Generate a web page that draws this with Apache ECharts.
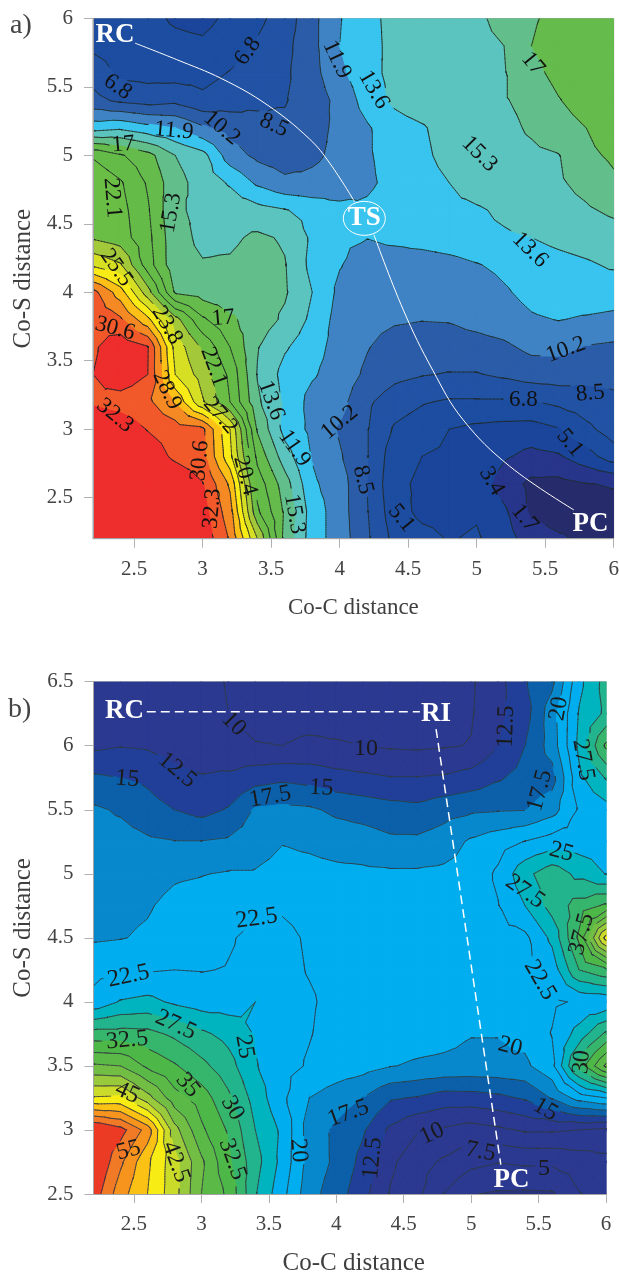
<!DOCTYPE html>
<html><head><meta charset="utf-8">
<style>html,body{margin:0;padding:0;background:#fff}#c{width:619px;height:1272px}</style>
<script src="https://cdn.jsdelivr.net/npm/echarts@6/dist/echarts.min.js"></script>
</head><body><div id="c"></div>
<script>
const SERIF='"Liberation Serif","Times New Roman",serif';
const xA=[2.2,2.4,2.6,2.8,3.0,3.2,3.4,3.6,3.8,4.0,4.2,4.4,4.6,4.8,5.0,5.2,5.4,5.6,5.8,6.0];
const yA=[6.0,5.8,5.6,5.4,5.2,5.0,4.8,4.6,4.4,4.2,4.0,3.8,3.6,3.4,3.2,3.0,2.8,2.6,2.4,2.2];
const zA=[
[5.8,5.7,5.5,4.9,4.6,5.5,6.4,7.6,9.7,11.8,13.2,14.0,14.5,14.8,15.0,15.8,16.8,17.5,17.9,18.1],
[6.4,6.0,5.7,5.5,5.4,6.0,7.0,8.0,9.7,11.9,13.1,14.0,14.4,14.7,14.9,15.3,17.0,17.8,18.1,18.3],
[7.9,6.4,6.2,6.1,6.2,6.9,7.6,8.2,9.6,11.5,13.0,14.1,14.5,14.7,14.9,15.2,16.4,17.6,18.2,18.5],
[9.0,8.2,7.8,8.1,7.2,7.8,8.2,8.4,9.3,10.7,12.6,13.9,14.6,14.8,15.0,15.2,15.7,16.9,17.9,18.4],
[12.9,13.3,12.5,11.9,10.5,9.5,9.0,8.8,9.6,10.6,11.7,12.9,13.4,14.4,14.9,14.9,15.5,16.2,17.0,18.0],
[20.2,18.9,17.6,15.3,14.2,11.0,9.8,9.3,9.9,10.6,11.7,12.6,13.2,14.2,14.6,14.8,15.0,15.25,16.6,17.3],
[21.8,20.6,18.5,15.9,14.6,13.4,11.6,10.6,10.6,10.9,11.6,12.4,12.9,13.6,14.4,14.7,14.9,15.1,15.8,16.7],
[22.0,21.0,18.9,15.5,15.0,14.7,14.2,13.7,13.0,12.4,12.2,12.8,13.0,13.2,13.4,13.9,14.3,14.7,15.1,15.6],
[21.9,21.2,19.2,15.8,15.0,15.0,15.6,15.1,13.3,12.2,11.95,12.3,12.6,12.9,13.2,13.4,13.6,14.0,14.3,14.6],
[25.2,24.0,19.5,15.8,15.4,15.5,16.0,15.4,13.1,12.0,11.1,11.0,11.0,11.3,11.8,12.3,12.8,13.1,13.4,13.8],
[31.2,28.0,22.8,16.8,16.2,15.9,16.0,15.5,13.6,11.5,11.0,10.8,10.6,10.6,11.0,11.7,12.4,12.8,12.9,12.7],
[31.8,30.9,27.7,22.8,19.0,17.3,16.2,15.0,13.2,11.2,10.7,10.4,10.25,10.3,10.7,11.1,11.7,11.95,11.7,11.5],
[32.0,33.5,32.4,24.9,21.8,18.7,15.4,13.8,12.6,11.2,10.3,9.5,9.4,9.5,9.6,9.9,10.6,10.6,10.1,9.9],
[32.3,33.5,32.3,25.5,23.0,20.0,15.2,13.0,12.1,11.1,9.9,9.0,8.6,8.4,8.4,8.8,9.3,9.4,9.0,8.9],
[32.0,31.5,31.0,28.7,24.0,20.4,15.6,13.3,11.3,10.8,8.8,7.6,6.95,6.6,6.6,6.6,6.7,7.2,7.7,8.2],
[34.0,33.5,32.2,31.5,31.0,25.5,16.8,13.0,11.5,10.0,8.6,6.6,5.9,5.1,4.7,4.5,4.4,5.0,6.4,7.6],
[34.5,34.0,33.5,31.9,31.1,26.0,18.2,14.4,11.8,10.4,8.6,5.8,5.1,4.8,4.6,3.6,2.9,3.2,4.4,6.0],
[35.0,35.0,35.0,34.0,32.4,28.6,19.7,16.1,12.2,11.0,8.5,5.5,4.8,4.5,4.4,2.6,1.3,1.2,1.65,1.8],
[36.0,36.0,35.5,34.0,33.0,29.6,20.7,16.7,12.8,11.0,8.6,5.8,4.7,4.6,4.9,3.7,1.4,1.0,1.1,1.3],
[36.0,36.0,35.5,35.0,33.5,30.4,23.8,16.5,12.7,11.1,8.8,6.3,5.6,5.0,5.3,4.2,2.5,1.9,1.4,1.3]
];
const levelsA=[1.7,3.4,5.1,6.8,8.5,10.2,11.9,13.6,15.3,17,18.7,20.4,22.1,23.8,25.5,27.2,28.9,30.6,32.3];
const colorsA=['#262c6b','#27358a','#1a459b','#1c4da0','#2152a4','#2b5ca8','#3f83c4','#38c4ee','#5bc4bf','#62bf8b','#65bb4b','#65bb47','#6abd45','#a3c93a','#d6df23','#f9ec16','#fcc017','#f58a24','#f1592a','#ee2e2c'];
const xB=xA;
const yB=[6.5,6.25,6,5.75,5.5,5.25,5,4.75,4.5,4.25,4,3.75,3.5,3.25,3,2.75,2.5];
const zB=[
[10.8,10.8,10.7,10.6,10.5,9.9,9.5,9.4,9.3,9.3,9.3,9.3,9.4,9.5,9.7,11.6,14.8,16.9,24.3,28.5],
[11.2,11.2,11.0,10.9,10.6,10.0,9.4,9.3,9.2,9.2,9.1,9.1,9.2,9.4,9.8,11.8,14.0,18.9,25.2,28.0],
[12.0,12.4,12.2,11.6,11.1,10.6,10.1,10.0,10.4,10.2,10.0,9.7,9.6,9.8,10.1,12.4,15.0,18.6,25.6,33.0],
[15.4,15.0,14.5,13.1,12.7,13.0,14.0,14.5,14.1,13.4,13.0,12.6,12.6,12.8,13.5,14.7,15.9,16.5,24.4,27.7],
[17.9,17.2,16.0,15.0,14.2,15.2,17.8,18.1,17.9,17.0,16.5,16.0,15.7,16.6,17.1,17.3,17.4,19.0,22.8,24.0],
[18.5,18.5,17.9,17.6,17.6,17.9,18.9,19.9,19.6,19.0,18.7,18.0,18.0,18.7,20.4,21.5,22.6,23.7,23.8,23.8],
[18.9,19.0,19.1,19.7,19.9,20.2,20.2,20.8,20.7,20.6,20.5,20.4,20.4,20.6,21.0,22.9,26.8,29.0,26.8,24.9],
[19.3,19.5,19.8,20.6,21.0,21.5,22.0,22.3,22.0,21.6,21.3,21.0,21.0,21.1,21.4,22.4,25.0,28.5,31.0,33.0],
[19.7,19.9,20.3,21.0,21.5,22.3,23.0,22.9,22.3,21.8,21.5,21.3,21.2,21.2,21.4,21.6,21.9,25.6,33.0,46.0],
[21.8,22.0,22.3,22.5,22.4,22.6,23.0,23.0,22.4,22.0,21.6,21.4,21.3,21.3,21.3,21.4,21.7,23.5,30.0,32.0],
[23.2,25.2,25.7,24.6,23.8,23.8,25.0,23.0,22.7,22.0,21.8,21.6,21.4,21.3,21.3,21.4,21.6,22.1,22.8,23.0],
[31.0,31.0,30.8,29.5,28.0,26.7,24.8,23.1,22.6,21.8,21.4,21.2,21.0,20.7,20.1,20.1,20.8,22.6,26.0,30.5],
[37.9,37.5,34.5,32.8,30.7,28.5,25.2,23.2,22.3,21.5,21.0,20.1,19.7,19.5,19.3,19.3,19.5,21.8,31.0,38.0],
[45.3,45.5,41.0,36.0,33.8,30.5,26.5,23.0,20.0,18.7,17.4,15.3,14.8,13.8,13.9,14.4,15.3,17.7,21.0,22.5],
[58.0,56.0,51.5,41.0,35.5,32.2,27.5,24.5,18.8,17.0,15.3,12.0,10.2,9.6,8.9,9.5,10.3,10.3,10.0,9.4],
[58.0,53.0,48.0,43.5,38.0,33.0,28.5,24.2,19.0,17.0,14.2,10.5,8.5,7.1,5.7,5.1,5.4,5.4,6.1,6.8],
[56.5,51.0,47.5,43.5,37.5,34.5,27.7,23.3,18.4,16.2,13.3,9.8,8.1,4.9,2.6,2.2,2.1,2.2,4.9,5.6]
];
const levelsB=[2.5,5,7.5,10,12.5,15,17.5,20,22.5,25,27.5,30,32.5,35,37.5,40,42.5,45,47.5,50,52.5,55];
const colorsB=['#2a327e','#2b3990','#2b3990','#2b3990','#2b3990','#213f98','#0c5fa9','#0888cc','#00aeef','#00aeef','#00b4bf','#22b48c','#36b56c','#4db848','#5bb947','#72be44','#99ca3c','#cbdb2a','#f7ec13','#fbc115','#f7941e','#f17a26','#ec3b25'];
const xTicks=[2.5,3,3.5,4,4.5,5,5.5,6];
const yTicksA=[2.5,3,3.5,4,4.5,5,5.5,6];
const yTicksB=[2.5,3,3.5,4,4.5,5,5.5,6,6.5];
const contourLabelsA=[[2.38,5.5,'6.8',-35],[3.33,5.76,'6.8',55],[3.52,5.22,'8.5',-25],[3.14,5.2,'10.2',-40],[2.79,5.18,'11.9',-5],[2.42,5.08,'17',5],[2.34,4.69,'22.1',-85],[2.77,4.58,'15.3',80],[2.37,4.18,'25.5',-55],[2.74,3.76,'23.8',-60],[3.15,3.81,'17',5],[2.36,3.735,'30.6',-15],[3.08,3.455,'22.1',-70],[2.74,3.285,'28.9',-65],[3.13,3.10,'27.2',-50],[2.36,3.10,'32.3',-40],[3.5,3.21,'13.6',-70],[3.67,2.86,'11.9',-55],[2.98,2.77,'30.6',85],[3.31,2.66,'20.4',-75],[3.07,2.42,'32.3',85],[3.67,2.38,'15.3',-80],[3.98,5.70,'11.9',-65],[4.25,5.48,'13.6',-60],[5.41,5.67,'17',-50],[5.02,5.01,'15.3',-45],[5.39,4.31,'13.6',-45],[5.65,3.58,'10.2',20],[5.83,3.26,'8.5',5],[5.34,3.21,'6.8',0],[5.68,2.9,'5.1',-50],[5.11,2.62,'3.4',-60],[5.35,2.35,'1.7',-50],[4.45,2.35,'5.1',-50],[4.17,2.63,'8.5',-75],[4.0,3.05,'10.2',40]];
const contourLabelsB=[[3.24,6.17,'10',-45],[2.82,5.81,'12.5',-40],[2.45,5.74,'15',-5],[3.51,5.6,'17.5',10],[3.41,4.65,'22.5',8],[2.46,4.2,'22.5',12],[4.22,5.98,'10',0],[5.26,6.15,'12.5',88],[3.89,5.67,'15',-3],[5.51,5.65,'17.5',75],[5.65,6.29,'20',80],[5.83,5.89,'27.5',-80],[5.67,5.17,'25',-15],[5.4,4.86,'27.5',-35],[5.82,4.53,'37.5',75],[5.51,4.17,'22.5',-60],[2.45,3.70,'32.5',5],[2.81,3.82,'27.5',-25],[3.32,3.65,'25',-80],[2.9,3.35,'35',-50],[3.23,3.17,'30',-60],[2.45,3.29,'45',-25],[3.23,2.77,'32.5',-70],[2.46,2.84,'55',15],[2.81,2.75,'42.5',-70],[3.72,2.84,'20',-85],[5.82,3.53,'30',85],[5.29,3.65,'20',-15],[5.55,3.16,'15',-30],[4.09,3.13,'17.5',20],[4.27,2.78,'12.5',85],[4.71,2.97,'10',25],[5.07,2.83,'7.5',-10],[5.54,2.7,'5',0]];
const pathAx=[2.507,2.81,3.14,3.47,3.78,3.93,4.11];
const pathAy=[5.82,5.7,5.56,5.37,5.12,4.94,4.66];
const pathA2x=[4.25,4.465,4.68,4.9,5.24,5.71];
const pathA2y=[4.42,3.87,3.43,3.07,2.73,2.41];
const pathB1x=[2.595,4.62], pathB1y=[6.266,6.266];
const pathB2x=[4.74,5.22], pathB2y=[6.13,2.73];
const pointsA=[[2.36,5.88,'RC'],[4.18,4.54,'TS'],[5.83,2.31,'PC']];
const pointsB=[[2.43,6.27,'RC'],[4.74,6.25,'RI'],[5.3,2.61,'PC']];

function cells(xs,ys){const d=[];for(let j=0;j<ys.length-1;j++)for(let i=0;i<xs.length-1;i++)d.push([xs[i],ys[j],i,j]);return d;}
function clipPoly(poly,t,keepAbove){const out=[];for(let k=0;k<poly.length;k++){const a=poly[k],b=poly[(k+1)%poly.length];const ina=keepAbove?a.v>=t:a.v<=t,inb=keepAbove?b.v>=t:b.v<=t;if(ina)out.push(a);if(ina!==inb){const f=(t-a.v)/(b.v-a.v);out.push({x:a.x+f*(b.x-a.x),y:a.y+f*(b.y-a.y),v:t});}}return out;}
function tris(api,xs,ys,z){const i=api.value(2),j=api.value(3);
 const c=(p,q)=>{const o=api.coord([xs[p],ys[q]]);return{x:o[0],y:o[1],v:z[q][p]};};
 const a=c(i,j),b=c(i+1,j),d=c(i+1,j+1),e=c(i,j+1);
 const m={x:(a.x+d.x)/2,y:(a.y+d.y)/2,v:(a.v+b.v+d.v+e.v)/4};
 return{corners:[a,b,d,e],list:[[a,b,m],[b,d,m],[d,e,m],[e,a,m]]};}
function fillRender(xs,ys,z,levels,colors){return function(p,api){const t=tris(api,xs,ys,z);const ch=[];
 const vs=t.corners.map(o=>o.v),mn=Math.min(...vs),mx=Math.max(...vs);
 for(let k=0;k<colors.length;k++){const lo=k>0?levels[k-1]:-Infinity,hi=k<levels.length?levels[k]:Infinity;
  if(mx<lo||mn>=hi)continue;
  const add=(poly)=>{if(poly.length>2)ch.push({type:'polygon',silent:true,shape:{points:poly.map(o=>[o.x,o.y])},style:{fill:colors[k],stroke:colors[k],lineWidth:1.2}});};
  if(mn>=lo&&mx<hi){add(t.corners);continue;}
  t.list.forEach(tr=>{let g=tr;if(lo>-Infinity)g=clipPoly(g,lo,true);if(g.length&&hi<Infinity)g=clipPoly(g,hi,false);add(g);});
 }
 return{type:'group',children:ch};};}
function lineRender(xs,ys,z,levels,labels,col,w){return function(p,api){const t=tris(api,xs,ys,z);const ch=[];
 const pl=labels.map(l=>{const o=api.coord([l[0],l[1]]);const r=l[3]*Math.PI/180;return{x:o[0],y:o[1],c:Math.cos(r),s:Math.sin(r),v:parseFloat(l[2]),hw:l[2].length*6+2};});
 const hidden=(x,y,L)=>pl.some(q=>{if(q.v!==L)return false;const dx=x-q.x,dy=y-q.y;const u=dx*q.c-dy*q.s,n=dx*q.s+dy*q.c;return Math.abs(u)<q.hw&&Math.abs(n)<11;});
 levels.forEach(L=>{t.list.forEach(tr=>{const pts=[];for(let k=0;k<3;k++){const a=tr[k],b=tr[(k+1)%3];if((a.v>=L)!==(b.v>=L)){const f=(L-a.v)/(b.v-a.v);pts.push([a.x+f*(b.x-a.x),a.y+f*(b.y-a.y)]);}}
  if(pts.length===2){const N=6;for(let n=0;n<N;n++){const x1=pts[0][0]+(pts[1][0]-pts[0][0])*n/N,y1=pts[0][1]+(pts[1][1]-pts[0][1])*n/N,x2=pts[0][0]+(pts[1][0]-pts[0][0])*(n+1)/N,y2=pts[0][1]+(pts[1][1]-pts[0][1])*(n+1)/N;
    if(!hidden((x1+x2)/2,(y1+y2)/2,L))ch.push({type:'line',silent:true,shape:{x1,y1,x2,y2},style:{stroke:col,lineWidth:w,lineCap:'round'}});}}
 });});
 return{type:'group',children:ch};};}
function textRender(labels,size,col){return function(p,api){const l=labels[api.value(2)];const o=api.coord([l[0],l[1]]);
 return{type:'text',silent:true,x:o[0],y:o[1],rotation:l[3]*Math.PI/180,style:{text:l[2],font:size+'px '+SERIF,fill:col,align:'center',verticalAlign:'middle'}};};}
function pointRender(points,size){return function(p,api){const l=points[api.value(2)];const o=api.coord([l[0],l[1]]);const ch=[{type:'text',silent:true,x:o[0],y:o[1],style:{text:l[2],font:'bold '+size+'px '+SERIF,fill:'#fff',align:'center',verticalAlign:'middle'}}];
 if(l[2]==='TS')ch.push({type:'ellipse',silent:true,shape:{cx:o[0],cy:o[1],rx:21,ry:17},style:{fill:'none',stroke:'#fff',lineWidth:1}});
 return{type:'group',children:ch};};}
function idx(list){return list.map((l,i)=>[l[0],l[1],i]);}
function xAxis(gi){return{type:'value',gridIndex:gi,min:2.2,max:6,z:10,name:'Co-C distance',nameLocation:'middle',nameGap:gi?57:58,nameTextStyle:{fontFamily:SERIF,fontSize:gi?25:23,color:'#3f3f3f',padding:gi?[0,0,0,8]:0},
 axisLine:{show:true,lineStyle:{color:'#a3a3a3',width:1}},splitLine:{show:false},
 axisTick:{show:true,length:9,lineStyle:{color:'#b0b0b0',width:1},customValues:xTicks},
 axisLabel:{customValues:xTicks,margin:20,fontFamily:SERIF,fontSize:21,color:'#444'}};}
function yAxis(gi,mn,mx,ticks){return{type:'value',gridIndex:gi,min:mn,max:mx,z:10,name:'Co-S distance',nameLocation:'middle',nameGap:56,nameRotate:90,nameTextStyle:{fontFamily:SERIF,fontSize:25,color:'#3f3f3f',padding:gi?[0,0,0,20]:0},
 axisLine:{show:true,lineStyle:{color:'#a3a3a3',width:1}},splitLine:{show:false},
 axisTick:{show:true,length:9,lineStyle:{color:'#b0b0b0',width:1},customValues:ticks},
 axisLabel:{customValues:ticks,margin:20,fontFamily:SERIF,fontSize:21,color:'#444'}};}
function custom(gi,data,fn,z){return{type:'custom',xAxisIndex:gi,yAxisIndex:gi,data,renderItem:fn,encode:{x:0,y:1},clip:true,z,silent:true,progressive:0,animation:false};}
function wline(gi,xs,ys,dashed,w){return{type:'line',xAxisIndex:gi,yAxisIndex:gi,data:xs.map((x,i)=>[x,ys[i]]),smooth:dashed?false:0.4,showSymbol:false,silent:true,z:6,animation:false,lineStyle:{color:'#fff',width:w,type:dashed?[9,5]:'solid'}};}
const chart=echarts.init(document.getElementById('c'),null,{renderer:'canvas'});
chart.setOption({animation:false,backgroundColor:'#fff',
 grid:[{left:93,top:18.5,width:520.7,height:520.2,outerBoundsMode:'none',show:true,borderColor:'#a3a3a3',borderWidth:1,backgroundColor:'transparent'},
       {left:93.5,top:681.7,width:512.5,height:512.3,outerBoundsMode:'none',show:true,borderColor:'#a3a3a3',borderWidth:1,backgroundColor:'transparent'}],
 xAxis:[xAxis(0),xAxis(1)],
 yAxis:[yAxis(0,2.2,6,yTicksA),yAxis(1,2.5,6.5,yTicksB)],
 series:[
  custom(0,cells(xA,yA),fillRender(xA,yA,zA,levelsA,colorsA),2),
  custom(0,cells(xA,yA),lineRender(xA,yA,zA,levelsA,contourLabelsA,'#1e2a2a',0.8),3),
  custom(0,idx(contourLabelsA),textRender(contourLabelsA,23,'#111'),4),
  wline(0,pathAx,pathAy,false,1),wline(0,pathA2x,pathA2y,false,1),
  custom(0,idx(pointsA),pointRender(pointsA,27),7),
  custom(1,cells(xB,yB),fillRender(xB,yB,zB,levelsB,colorsB),2),
  custom(1,cells(xB,yB),lineRender(xB,yB,zB,levelsB,contourLabelsB,'#2f3a44',0.8),3),
  custom(1,idx(contourLabelsB),textRender(contourLabelsB,24,'#1a1a1a'),4),
  wline(1,pathB1x,pathB1y,true,1.5),wline(1,pathB2x,pathB2y,true,1.5),
  custom(1,idx(pointsB),pointRender(pointsB,27),7)
 ],
 graphic:[
  {type:'text',left:10,top:12,style:{text:'a)',font:'28px '+SERIF,fill:'#444'}},
  {type:'text',left:8,top:696,style:{text:'b)',font:'28px '+SERIF,fill:'#444'}}
 ]});
</script></body></html>
